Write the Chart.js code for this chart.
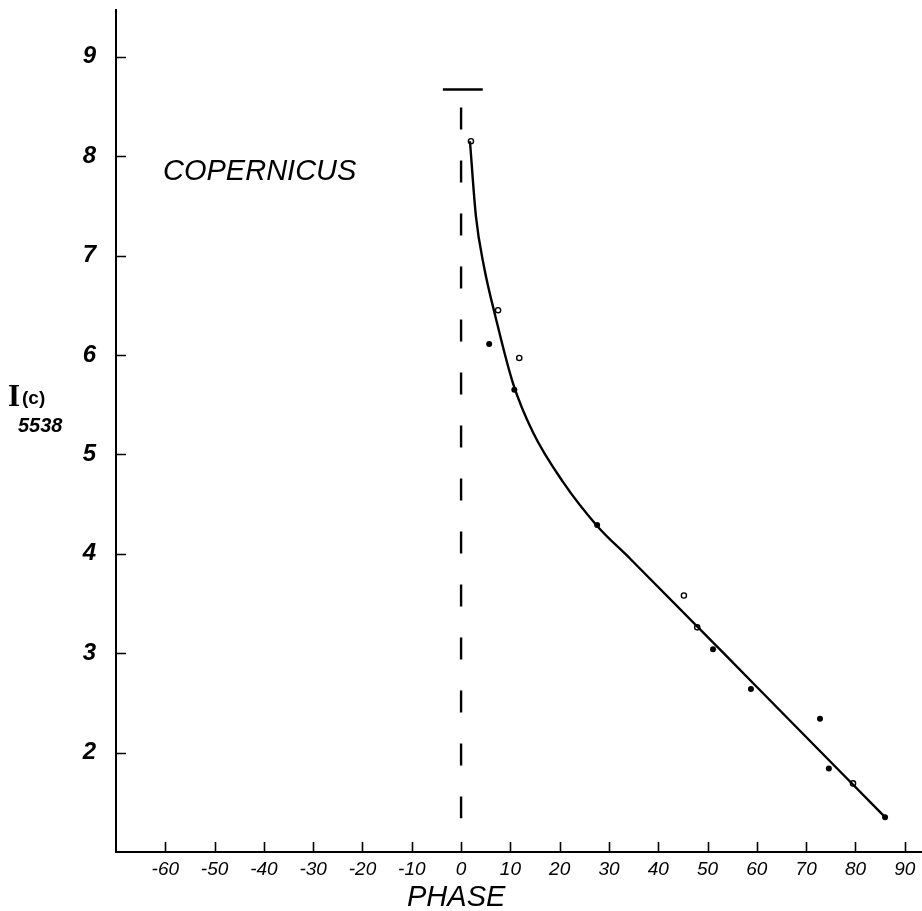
<!DOCTYPE html>
<html>
<head>
<meta charset="utf-8">
<title>Copernicus I(c) 5538 vs phase</title>
<script src="https://cdn.jsdelivr.net/npm/chart.js@4.4.1/dist/chart.umd.min.js"></script>
<style>
  html, body { margin: 0; padding: 0; background: #fff; }
  #wrap { width: 922px; height: 911px; }
</style>
</head>
<body>
<div id="wrap"><canvas id="phaseChart" width="922" height="911"></canvas></div>
<script>
        // tick labels
        const xTickValues = [-60, -50, -40, -30, -20, -10, 0, 10, 20, 30, 40, 50, 60, 70, 80, 90];
        const yTickValues = [2, 3, 4, 5, 6, 7, 8, 9];

        // fitted curve
        const curveX = [1.8, 3.0, 4.6, 7.0, 10.5, 14.6, 20.7, 27.6, 34.3, 60, 86];
        const curveY = [8.15, 7.4, 6.9, 6.38, 5.72, 5.22, 4.72, 4.28, 3.95, 2.66, 1.35];

        // observations: filled dots and open circles
        const filledX = [5.7, 10.8, 27.6, 51.1, 58.8, 72.8, 74.6, 86.0];
        const filledY = [6.11, 5.65, 4.29, 3.04, 2.64, 2.34, 1.84, 1.35];
        const openX = [2.0, 7.5, 11.8, 45.2, 47.9, 79.5];
        const openY = [8.15, 6.45, 5.97, 3.58, 3.26, 1.69];

        // phase zero marker (dashed) and its cap
        const zeroLineY = [8.67, 1.34];
        const capX = [-3.7, 4.4];
        const capY = 8.67;

        const toPoints = (xs, ys) => xs.map((x, i) => ({ x: x, y: ys[i] }));

        const inwardTicks = {
            id: 'inwardTicks',
            afterDraw(chart) {
                const ctx = chart.ctx;
                const xs = chart.scales.x;
                const ys = chart.scales.y;
                const area = chart.chartArea;
                ctx.save();
                ctx.strokeStyle = '#000';
                ctx.lineWidth = 1.6;
                ctx.beginPath();
                xTickValues.forEach(v => {
                    const px = Math.round(xs.getPixelForValue(v)) + 0.5;
                    ctx.moveTo(px, area.bottom);
                    ctx.lineTo(px, area.bottom - 10);
                });
                yTickValues.forEach(v => {
                    const py = Math.round(ys.getPixelForValue(v)) + 0.5;
                    ctx.moveTo(area.left, py);
                    ctx.lineTo(area.left + 10, py);
                });
                ctx.stroke();

                // axis line runs on to the page edge
                ctx.lineWidth = 2;
                ctx.beginPath();
                ctx.moveTo(area.right, area.bottom);
                ctx.lineTo(chart.width, area.bottom);
                ctx.stroke();

                // labels
                ctx.fillStyle = '#000';
                ctx.textBaseline = 'alphabetic';
                ctx.font = 'italic 29px "Liberation Sans"';
                ctx.fillText('COPERNICUS', 163, 180);

                ctx.textAlign = 'center';
                ctx.fillText('PHASE', xs.getPixelForValue(-1), 906);
                ctx.textAlign = 'left';

                ctx.font = 'bold 31px "Liberation Serif"';
                ctx.fillText('I', 8, 406);
                ctx.font = 'bold 19px "Liberation Sans"';
                ctx.fillText('(c)', 22, 404);
                ctx.font = 'italic bold 20px "Liberation Sans"';
                ctx.fillText('5538', 18, 432);
                ctx.restore();
            }
        };

        const ctx = document.getElementById('phaseChart').getContext('2d');
        new Chart(ctx, {
            type: 'scatter',
            data: {
                datasets: [
                    {
                        label: 'curve',
                        data: toPoints(curveX, curveY),
                        showLine: true,
                        borderColor: '#000',
                        borderWidth: 2.4,
                        pointRadius: 0,
                        cubicInterpolationMode: 'monotone'
                    },
                    {
                        label: 'filled',
                        data: toPoints(filledX, filledY),
                        pointRadius: 3,
                        pointBackgroundColor: '#000',
                        pointBorderColor: '#000',
                        pointBorderWidth: 0
                    },
                    {
                        label: 'open',
                        data: toPoints(openX, openY),
                        pointRadius: 2.6,
                        pointBackgroundColor: '#fff',
                        pointBorderColor: '#000',
                        pointBorderWidth: 1.4
                    },
                    {
                        label: 'zero',
                        data: zeroLineY.map(y => ({ x: 0, y: y })),
                        showLine: true,
                        borderColor: '#000',
                        borderWidth: 2.4,
                        borderDash: [22, 31],
                        borderDashOffset: 35,
                        pointRadius: 0
                    },
                    {
                        label: 'cap',
                        data: capX.map(x => ({ x: x, y: capY })),
                        showLine: true,
                        borderColor: '#000',
                        borderWidth: 2.6,
                        pointRadius: 0
                    }
                ]
            },
            options: {
                responsive: false,
                animation: false,
                layout: {
                    padding: { top: 10, right: 0, left: 0, bottom: 0 }
                },
                plugins: {
                    legend: { display: false },
                    tooltip: { enabled: false }
                },
                scales: {
                    x: {
                        type: 'linear',
                        min: -70,
                        max: 92.4,
                        grid: { display: false, drawTicks: false },
                        border: { display: true, color: '#000', width: 2 },
                        afterBuildTicks: scale => { scale.ticks = xTickValues.map(v => ({ value: v })); },
                        afterFit: scale => {
                            scale.height = 59;
                            scale.paddingLeft = 0;
                            scale.paddingRight = 0;
                        },
                        ticks: {
                            padding: 6,
                            color: '#000',
                            maxRotation: 0,
                            autoSkip: false,
                            font: { family: '"Liberation Sans"', size: 19, style: 'italic' }
                        }
                    },
                    y: {
                        type: 'linear',
                        min: 1,
                        max: 9.47,
                        grid: { display: false, drawTicks: false },
                        border: { display: true, color: '#000', width: 2 },
                        afterBuildTicks: scale => { scale.ticks = yTickValues.map(v => ({ value: v })); },
                        afterFit: scale => {
                            scale.width = 116;
                            scale.paddingTop = 0;
                            scale.paddingBottom = 0;
                        },
                        ticks: {
                            padding: 20,
                            color: '#000',
                            font: { family: '"Liberation Sans"', size: 24, style: 'italic', weight: 'bold' }
                        }
                    }
                }
            },
            plugins: [inwardTicks]
        });
</script>
</body>
</html>
